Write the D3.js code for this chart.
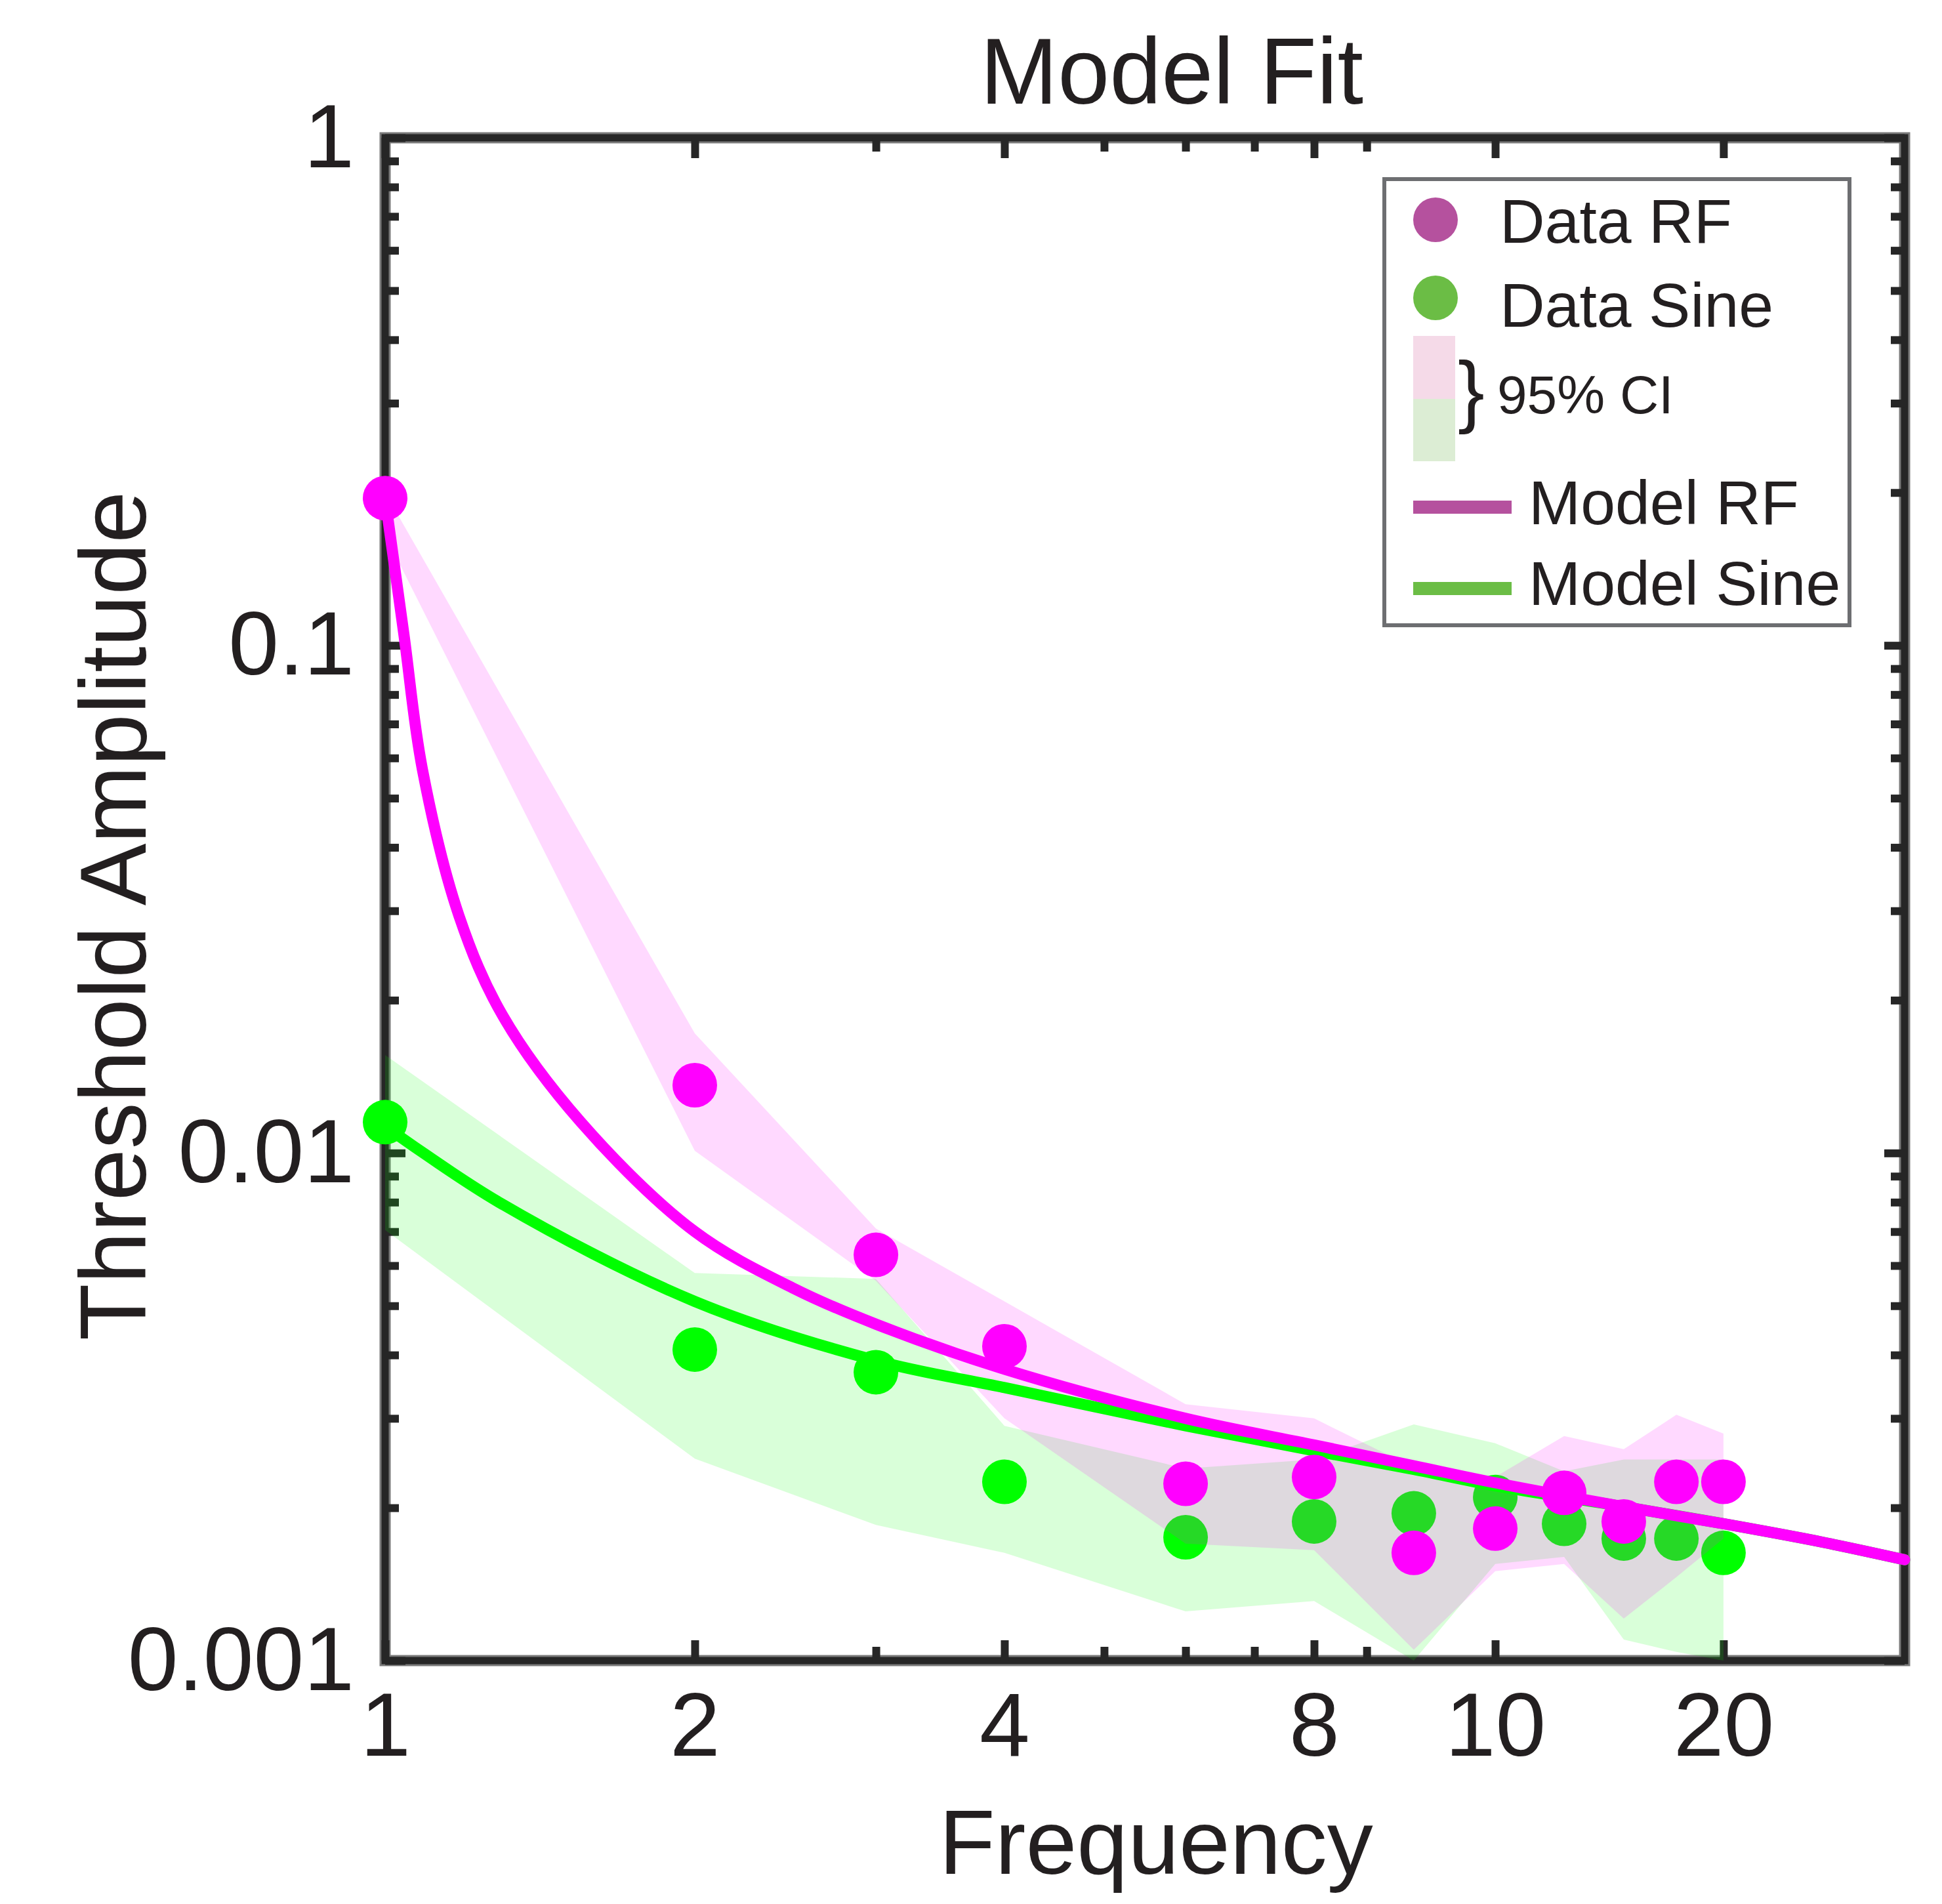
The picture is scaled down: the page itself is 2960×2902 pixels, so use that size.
<!DOCTYPE html>
<html>
<head>
<meta charset="utf-8">
<script src="https://cdn.jsdelivr.net/npm/d3@7"></script>
<style>
  body { margin: 0; background: #fff; }
  text { font-family: "Liberation Sans", Arial, sans-serif; fill: #231f20; }
</style>
</head>
<body>
<div class="container"></div>
<script>
// frequencies of the measured conditions
var freqs = [1, 2, 3, 4, 6, 8, 10, 12, 14, 16, 18, 20];

// measured thresholds
var dataRF   = [0.195, 0.0136, 0.0063, 0.00416, 0.00223, 0.0023, 0.00163, 0.00182, 0.00214, 0.00188, 0.00225, 0.00225];
var dataSine = [0.0115, 0.0041, 0.0037, 0.00225, 0.00175, 0.00188, 0.00195, 0.0021, 0.00186, 0.00174, 0.00174, 0.00163];

// 95% confidence bands
var ciRFUpper   = [0.2, 0.0172, 0.0071, 0.0051, 0.0032, 0.003, 0.0024, 0.0023, 0.00277, 0.00261, 0.00305, 0.0028];
var ciRFLower   = [0.165, 0.0101, 0.0056, 0.003, 0.0017, 0.00165, 0.00105, 0.0015, 0.00155, 0.00121, 0.00146, 0.00174];
var ciSineUpper = [0.0156, 0.0058, 0.00565, 0.0029, 0.00239, 0.00249, 0.00292, 0.00268, 0.00236, 0.00249, 0.00249, 0.00249];
var ciSineLower = [0.00705, 0.0025, 0.00185, 0.00163, 0.00125, 0.00131, 0.001, 0.00155, 0.0016, 0.0011, 0.00104, 0.001];

// model curves
var modelRFX = [1, 1.043, 1.087, 1.18, 1.3, 1.55, 2, 2.5, 3, 4, 6, 8, 10, 12, 16, 20, 25, 30];
var modelRFY = [0.195, 0.105, 0.057, 0.0293, 0.0187, 0.0115, 0.007, 0.0054, 0.0046, 0.00375, 0.003, 0.00266, 0.00242, 0.00224, 0.00201, 0.00186, 0.00171, 0.00158];
var modelSineX = [1, 1.29, 2, 3, 4, 6, 8, 10, 12, 16, 20, 25, 30];
var modelSineY = [0.0113, 0.008, 0.0051, 0.0039, 0.00345, 0.0029, 0.00259, 0.00238, 0.00221, 0.00201, 0.00186, 0.00171, 0.00158];

// ticks
var xTickValues = [1, 2, 4, 8, 12, 20];
var xTickLabels = ["1", "2", "4", "8", "10", "20"];
var xMinorTicks = [3, 5, 6, 7, 9];
var yTickValues = [0.001, 0.01, 0.1, 1];
var yTickLabels = ["0.001", "0.01", "0.1", "1"];
var yMinorTicks = [];
[0.001, 0.01, 0.1].forEach(function(dec){
  for (var k = 2; k <= 9; k++) yMinorTicks.push(+(dec * k).toPrecision(3));
});

var legendLabels = ["Data RF", "Data Sine", "95% CI", "Model RF", "Model Sine"];

const WIDTH = 2960;
const HEIGHT = 2902;
const LEFT = 587, RIGHT = 2903, TOP = 210, BOTTOM = 2531;

var svg = d3.select('.container').append('svg')
  .attr('width', WIDTH)
  .attr('height', HEIGHT);

var xScale = d3.scaleLog().domain([1, 30]).range([LEFT, RIGHT]);
var yScale = d3.scaleLog().domain([0.001, 1]).range([BOTTOM, TOP]);

var translate = function(x, y){
  return "translate(" + x + "," + y + ")";
};

// box
svg.append('rect')
  .attr('x', LEFT).attr('y', TOP)
  .attr('width', RIGHT - LEFT).attr('height', BOTTOM - TOP)
  .attr('fill', 'none').attr('stroke', '#7a7a7a').attr('stroke-width', 17);
svg.append('rect')
  .attr('x', LEFT).attr('y', TOP)
  .attr('width', RIGHT - LEFT).attr('height', BOTTOM - TOP)
  .attr('fill', 'none').attr('stroke', '#262626').attr('stroke-width', 11);

var styleAxis = function(g) {
  g.select('.domain').remove();
  g.selectAll('.tick line').attr('stroke', '#262626').attr('stroke-width', 12);
  g.selectAll('.tick text')
    .style('font-family', '"Liberation Sans", Arial, sans-serif')
    .style('font-size', '138px')
    .attr('fill', '#231f20');
};

var noLabel = function(){ return ""; };

// x axes, bottom and top
svg.append('g').attr('transform', translate(0, BOTTOM))
  .call(d3.axisBottom(xScale).tickValues(xTickValues).tickSize(-31).tickPadding(47)
    .tickFormat(function(d, i){ return xTickLabels[i]; }))
  .call(styleAxis);
svg.append('g').attr('transform', translate(0, BOTTOM))
  .call(d3.axisBottom(xScale).tickValues(xMinorTicks).tickSize(-21).tickFormat(noLabel))
  .call(styleAxis);
svg.append('g').attr('transform', translate(0, TOP))
  .call(d3.axisTop(xScale).tickValues(xTickValues).tickSize(-31).tickFormat(noLabel))
  .call(styleAxis);
svg.append('g').attr('transform', translate(0, TOP))
  .call(d3.axisTop(xScale).tickValues(xMinorTicks).tickSize(-21).tickFormat(noLabel))
  .call(styleAxis);

// y axes, left and right
svg.append('g').attr('transform', translate(LEFT, 0))
  .call(d3.axisLeft(yScale).tickValues(yTickValues).tickSize(-31).tickPadding(47)
    .tickFormat(function(d, i){ return yTickLabels[i]; }))
  .call(styleAxis);
svg.append('g').attr('transform', translate(LEFT, 0))
  .call(d3.axisLeft(yScale).tickValues(yMinorTicks).tickSize(-21).tickFormat(noLabel))
  .call(styleAxis);
svg.append('g').attr('transform', translate(RIGHT, 0))
  .call(d3.axisRight(yScale).tickValues(yTickValues).tickSize(-31).tickFormat(noLabel))
  .call(styleAxis);
svg.append('g').attr('transform', translate(RIGHT, 0))
  .call(d3.axisRight(yScale).tickValues(yMinorTicks).tickSize(-21).tickFormat(noLabel))
  .call(styleAxis);

// bands
var band = function(upper, lower) {
  return d3.area()
    .x(function(d, i){ return xScale(freqs[i]); })
    .y0(function(d, i){ return yScale(lower[i]); })
    .y1(function(d, i){ return yScale(upper[i]); })(freqs);
};

var drawDots = function(values, color) {
  svg.append('g').selectAll('circle')
    .data(values)
    .enter().append('circle')
    .attr('cx', function(d, i){ return xScale(freqs[i]); })
    .attr('cy', function(d){ return yScale(d); })
    .attr('r', 34)
    .attr('fill', color);
};

var drawModel = function(xs, ys, color) {
  var line = d3.line()
    .x(function(d, i){ return xScale(xs[i]); })
    .y(function(d){ return yScale(d); })
    .curve(d3.curveCatmullRom.alpha(0.5));
  svg.append('path')
    .datum(ys)
    .attr('d', line)
    .attr('fill', 'none')
    .attr('stroke', color)
    .attr('stroke-width', 17)
    .attr('stroke-linecap', 'round');
};

svg.append('path').attr('d', band(ciSineUpper, ciSineLower))
  .attr('fill', '#00ff00').attr('fill-opacity', 0.15);
drawDots(dataSine, '#00ff00');
svg.append('path').attr('d', band(ciRFUpper, ciRFLower))
  .attr('fill', '#ff00ff').attr('fill-opacity', 0.15);
drawModel(modelSineX, modelSineY, '#00ff00');
drawModel(modelRFX, modelRFY, '#ff00ff');
drawDots(dataRF, '#ff00ff');

// titles
svg.append('text')
  .attr('x', 1786).attr('y', 158)
  .attr('text-anchor', 'middle')
  .style('font-size', '142px')
  .text('Model Fit');

svg.append('text')
  .attr('x', 1762).attr('y', 2856)
  .attr('text-anchor', 'middle')
  .style('font-size', '140px')
  .text('Frequency');

svg.append('text')
  .attr('transform', translate(222, 1396) + ' rotate(-90)')
  .attr('text-anchor', 'middle')
  .style('font-size', '142px')
  .text('Threshold Amplitude');

// legend
var legend = svg.append('g');
legend.append('rect')
  .attr('x', 2110).attr('y', 273).attr('width', 709).attr('height', 680)
  .attr('fill', '#fff').attr('stroke', '#6d6e71').attr('stroke-width', 6);

legend.append('circle').attr('cx', 2188).attr('cy', 335).attr('r', 34).attr('fill', '#b5519e');
legend.append('text').attr('x', 2286).attr('y', 370).style('font-size', '95px').text(legendLabels[0]);

legend.append('circle').attr('cx', 2188).attr('cy', 454).attr('r', 34).attr('fill', '#6bbd45');
legend.append('text').attr('x', 2286).attr('y', 498).style('font-size', '95px').text(legendLabels[1]);

legend.append('rect').attr('x', 2154).attr('y', 512).attr('width', 64).attr('height', 96).attr('fill', '#f5dae8');
legend.append('rect').attr('x', 2154).attr('y', 608).attr('width', 64).attr('height', 95).attr('fill', '#dcedd4');
legend.append('text').attr('x', 2222).attr('y', 637).style('font-size', '122px').text('}');
legend.append('text').attr('x', 2282).attr('y', 630).style('font-size', '82px').text(legendLabels[2]);

legend.append('line').attr('x1', 2154).attr('x2', 2304).attr('y1', 773).attr('y2', 773)
  .attr('stroke', '#b5519e').attr('stroke-width', 20);
legend.append('text').attr('x', 2330).attr('y', 799).style('font-size', '95px').text(legendLabels[3]);

legend.append('line').attr('x1', 2154).attr('x2', 2304).attr('y1', 897).attr('y2', 897)
  .attr('stroke', '#6bbd45').attr('stroke-width', 20);
legend.append('text').attr('x', 2330).attr('y', 922).style('font-size', '95px').text(legendLabels[4]);
</script>
</body>
</html>
